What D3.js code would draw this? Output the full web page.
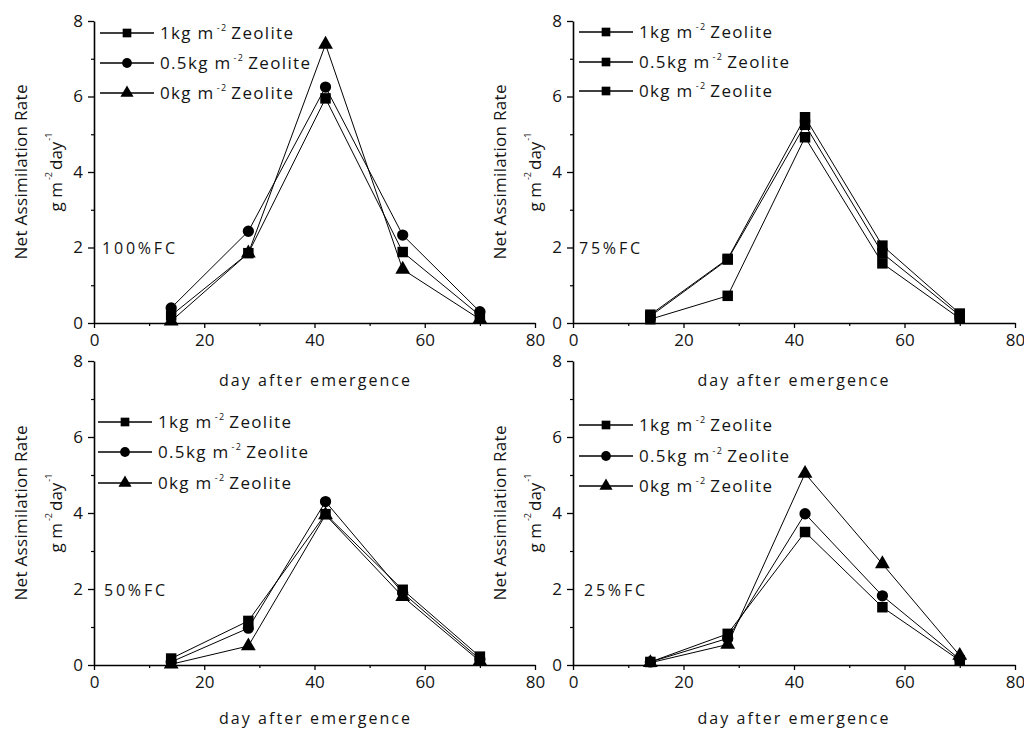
<!DOCTYPE html>
<html><head><meta charset="utf-8">
<script src="https://cdn.jsdelivr.net/npm/d3@7"></script>
<style>
body{margin:0;background:#fff;}
text{font-family:"Open Sans",sans-serif;fill:#141414;}
</style></head>
<body><svg id="c" width="1024" height="731"></svg>
<script>
const days = [14, 28, 42, 56, 70];
const xTicks = [0, 20, 40, 60, 80];
const yTicks = [0, 2, 4, 6, 8];
const seriesNames = ["1kg", "0.5kg", "0kg"];
const panelLabels = ["100%FC", "75%FC", "50%FC", "25%FC"];

const fc100_1kg  = [0.2, 1.85, 5.95, 1.88, 0.2];
const fc100_05kg = [0.4, 2.43, 6.25, 2.33, 0.3];
const fc100_0kg  = [0.05, 1.85, 7.38, 1.42, 0.1];

const fc75_1kg  = [0.22, 1.7, 5.45, 2.05, 0.25];
const fc75_05kg = [0.18, 1.68, 5.25, 1.85, 0.2];
const fc75_0kg  = [0.1, 0.72, 4.92, 1.58, 0.12];

const fc50_1kg  = [0.17, 1.16, 3.97, 1.98, 0.22];
const fc50_05kg = [0.08, 0.97, 4.3, 1.9, 0.15];
const fc50_0kg  = [0.02, 0.5, 3.95, 1.8, 0.1];

const fc25_1kg  = [0.08, 0.82, 3.5, 1.52, 0.12];
const fc25_05kg = [0.08, 0.7, 3.98, 1.82, 0.15];
const fc25_0kg  = [0.06, 0.54, 5.04, 2.66, 0.25];

const panelData = [
  [fc100_1kg, fc100_05kg, fc100_0kg],
  [fc75_1kg, fc75_05kg, fc75_0kg],
  [fc50_1kg, fc50_05kg, fc50_0kg],
  [fc25_1kg, fc25_05kg, fc25_0kg]
];
const panelShapes = [
  ["square","circle","triangle"],
  ["square","square","square"],
  ["square","circle","triangle"],
  ["square","circle","triangle"]
];

const layout = [
  {x0:94, x1:535, y0:323, y1:21, legX:100, legY:[33,63,93], lab:[102,248], labW:73, titleY:380},
  {x0:573, x1:1015, y0:323, y1:21, legX:579, legY:[32,62,91], lab:[579,248], labW:61, titleY:380},
  {x0:94, x1:535, y0:665, y1:361, legX:98, legY:[422,452,483], lab:[104,590], labW:61, titleY:718},
  {x0:573, x1:1015, y0:665, y1:361, legX:579, legY:[425,456,486], lab:[584,590], labW:61, titleY:718}
];
const legW = [133, 150, 133];

const svg = d3.select("#c");
const symMap = {square:d3.symbolSquare, circle:d3.symbolCircle, triangle:d3.symbolTriangle};
const symSize = {square:110, circle:100, triangle:95};

function unitText(g, x, y) {
  const t = g.append("text").attr("transform", `translate(${x},${y}) rotate(-90)`)
    .attr("text-anchor","middle").attr("font-size",17).attr("dominant-baseline","central");
  t.append("tspan").text("g m");
  t.append("tspan").attr("font-size",9).attr("dy",-7).attr("dx",2).text("-2");
  t.append("tspan").attr("dy",7).attr("dx",2).text("day");
  t.append("tspan").attr("font-size",9).attr("dy",-7).attr("dx",1).text("-1");
}

layout.forEach((L, i) => {
  const g = svg.append("g");
  const x = d3.scaleLinear().domain([0,80]).range([L.x0, L.x1]);
  const y = d3.scaleLinear().domain([0,8]).range([L.y0, L.y1]);

  const xAxis = d3.axisBottom(x).tickValues(xTicks).tickSize(5).tickPadding(4).tickSizeOuter(0);
  const gx = g.append("g").attr("transform",`translate(0,${L.y0})`).call(xAxis);
  const yAxis = d3.axisLeft(y).tickValues(yTicks).tickSize(6).tickPadding(5).tickSizeOuter(0);
  const gy = g.append("g").attr("transform",`translate(${L.x0},0)`).call(yAxis);
  [gx, gy].forEach(a => {
    a.select(".domain").attr("stroke","#000").attr("stroke-width",1.6);
    a.selectAll(".tick line").attr("stroke","#000").attr("stroke-width",1.3);
    a.selectAll(".tick text").attr("font-family","Open Sans").attr("font-size",17).attr("fill","#141414");
  });
  gx.selectAll(".tick text").attr("dy","0.8em");
  const gxm = g.append("g").attr("transform",`translate(0,${L.y0})`)
    .call(d3.axisBottom(x).tickValues([10,30,50,70]).tickSize(3).tickFormat(""));
  gxm.select(".domain").remove();
  gxm.selectAll(".tick line").attr("stroke","#000").attr("stroke-width",1.2);
  const gym = g.append("g").attr("transform",`translate(${L.x0},0)`)
    .call(d3.axisLeft(y).tickValues([1,3,5,7]).tickSize(3).tickFormat(""));
  gym.select(".domain").remove();
  gym.selectAll(".tick line").attr("stroke","#000").attr("stroke-width",1.2);

  const line = d3.line().x((d,j)=>x(days[j])).y(d=>y(d));
  panelData[i].forEach((s) => {
    g.append("path").datum(s).attr("d", line).attr("fill","none").attr("stroke","#000").attr("stroke-width",1);
  });
  panelData[i].forEach((s, k) => {
    const shp = panelShapes[i][k];
    g.selectAll(null).data(s).enter().append("path")
      .attr("d", d3.symbol().type(symMap[shp]).size(symSize[shp]))
      .attr("transform",(d,j)=>`translate(${x(days[j])},${y(d)})`)
      .attr("fill","#000");
  });

  seriesNames.forEach((nm, k) => {
    const ly = L.legY[k];
    g.append("line").attr("x1",L.legX).attr("x2",L.legX+54).attr("y1",ly).attr("y2",ly)
      .attr("stroke","#000").attr("stroke-width",1.3);
    const shp = panelShapes[i][k];
    g.append("path").attr("d", d3.symbol().type(symMap[shp]).size(75)())
      .attr("transform",`translate(${L.legX+27},${ly})`).attr("fill","#000");
    const t = g.append("text").attr("x",L.legX+60).attr("y",ly).attr("dy","0.35em").attr("font-size",17)
      .attr("textLength",legW[k]).attr("lengthAdjust","spacing");
    t.append("tspan").text(nm+" m");
    t.append("tspan").attr("font-size",9).attr("dy",-8).attr("dx",2).text("-2");
    t.append("tspan").attr("dy",8).attr("dx",4).text("Zeolite");
  });

  g.append("text").attr("x",L.lab[0]).attr("y",L.lab[1]).attr("dy","0.35em")
    .attr("font-size",16).attr("textLength", L.labW).attr("lengthAdjust","spacing").text(panelLabels[i]);

  g.append("text").attr("x",(L.x0+L.x1)/2 + (i%2===0?0:-1)).attr("y",L.titleY).attr("dy","0.35em")
    .attr("text-anchor","middle").attr("font-size",16).attr("textLength",191).attr("lengthAdjust","spacing")
    .text("day after emergence");

  const yc = (L.y0+L.y1)/2;
  g.append("text").attr("transform",`translate(${L.x0-74},${yc}) rotate(-90)`)
    .attr("text-anchor","middle").attr("dominant-baseline","central").attr("font-size",17)
    .attr("textLength",175).attr("lengthAdjust","spacing").text("Net Assimilation Rate");
  unitText(g, L.x0-39, yc);
});
</script></body></html>
